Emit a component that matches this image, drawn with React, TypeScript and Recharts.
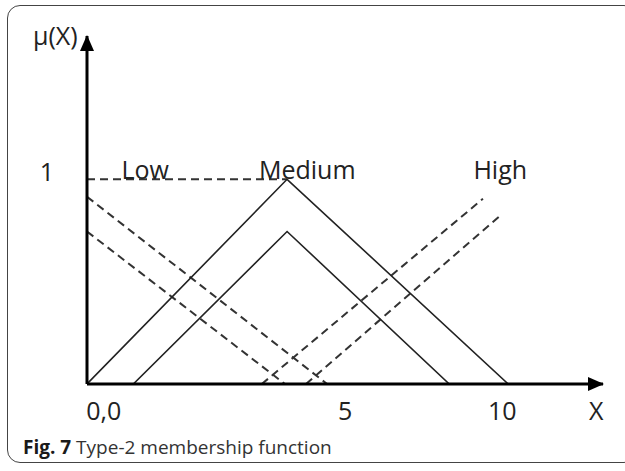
import { Line, LineChart, ReferenceDot, XAxis, YAxis } from 'recharts'

type Pt = { x: number; y: number }

// membership functions (x in universe units, y in membership degree)
const mediumOuter: Pt[] = [
  { x: 0, y: 0 },
  { x: 4.75, y: 1 },
  { x: 10, y: 0 },
]
const mediumInner: Pt[] = [
  { x: 1.1, y: 0 },
  { x: 4.75, y: 0.745 },
  { x: 8.6, y: 0 },
]
const lowUpper: Pt[] = [
  { x: 0, y: 0.915 },
  { x: 5.7, y: 0 },
]
const lowLower: Pt[] = [
  { x: 0, y: 0.745 },
  { x: 4.7, y: 0 },
]
const highUpper: Pt[] = [
  { x: 4.15, y: 0 },
  { x: 9.4, y: 0.905 },
]
const highLower: Pt[] = [
  { x: 5.2, y: 0 },
  { x: 9.85, y: 0.83 },
]
const levelOne: Pt[] = [
  { x: 0, y: 1 },
  { x: 4.75, y: 1 },
]

const xTickValues = [0.4, 6.13, 9.86, 12.09]
const xTickLabels = ['0,0', '5', '10', 'X']
const yTickValues = [1]
const yTickLabels = ['1']

const setNames = ['Low', 'Medium', 'High']
const setNameAt = [1.38, 5.23, 9.81]

const FONT = '"Open Sans", sans-serif'
const INK = '#222'

const solidLines = [mediumOuter, mediumInner]
const dashedLines = [levelOne, lowUpper, lowLower, highUpper, highLower]

function XTick(props: any) {
  const { x, y, payload } = props
  const i = xTickValues.indexOf(payload.value)
  return (
    <text x={x} y={y + 36} textAnchor='middle' fontFamily={FONT} fontSize={25} fill={INK}>
      {xTickLabels[i]}
    </text>
  )
}

function YTick(props: any) {
  const { x, y, payload } = props
  const i = yTickValues.indexOf(payload.value)
  return (
    <text x={x - 40} y={y + 2} textAnchor='middle' fontFamily={FONT} fontSize={25} fill={INK}>
      {yTickLabels[i]}
    </text>
  )
}

function nameLabel(name: string) {
  return (props: any) => {
    const vb = props.viewBox
    return (
      <text x={vb.x} y={vb.y} textAnchor='middle' fontFamily={FONT} fontSize={25} fill={INK}>
        {name}
      </text>
    )
  }
}

export default function App() {
  return (
    <div style={{ position: 'fixed', left: 0, top: 0, width: 625, height: 471, background: '#fff' }}>
      <div
        style={{
          position: 'absolute',
          left: 7,
          top: 5,
          width: 630,
          height: 458,
          border: '1.5px solid #444',
          borderRadius: 13,
          boxSizing: 'border-box',
        }}
      />
      <LineChart
        width={625}
        height={471}
        margin={{ top: 36, right: 22, bottom: 86, left: 86 }}
        style={{ position: 'absolute', left: 0, top: 0 }}
      >
        <defs>
          <marker
            id='arrow'
            viewBox='0 0 16 14'
            refX={15}
            refY={7}
            markerWidth={16}
            markerHeight={14}
            markerUnits='userSpaceOnUse'
            orient='auto-start-reverse'
          >
            <path d='M0,0 L16,7 L0,14 Z' fill='#000' />
          </marker>
        </defs>
        <XAxis
          type='number'
          dataKey='x'
          domain={[0, 12.25]}
          ticks={xTickValues}
          interval={0}
          height={1}
          tickSize={0}
          tickMargin={0}
          tickLine={false}
          axisLine={{ stroke: '#000', strokeWidth: 3, markerEnd: 'url(#arrow)' }}
          tick={<XTick />}
          allowDataOverflow
        />
        <YAxis
          type='number'
          dataKey='y'
          domain={[0, 1.7]}
          ticks={yTickValues}
          interval={0}
          width={1}
          tickSize={0}
          tickMargin={0}
          tickLine={false}
          axisLine={{ stroke: '#000', strokeWidth: 3, markerStart: 'url(#arrow)' }}
          tick={<YTick />}
          label={(props: any) => (
            <text
              x={props.viewBox.x - 53}
              y={props.viewBox.y + 9}
              fontFamily={FONT}
              fontSize={25}
              fill={INK}
            >
              μ(X)
            </text>
          )}
          allowDataOverflow
        />
        {dashedLines.map((d, i) => (
          <Line
            key={'d' + i}
            data={d}
            dataKey='y'
            type='linear'
            stroke='#333'
            strokeWidth={2}
            strokeDasharray='8 5'
            dot={false}
            activeDot={false}
            isAnimationActive={false}
          />
        ))}
        {solidLines.map((d, i) => (
          <Line
            key={'s' + i}
            data={d}
            dataKey='y'
            type='linear'
            stroke='#222'
            strokeWidth={1.6}
            dot={false}
            activeDot={false}
            isAnimationActive={false}
          />
        ))}
        {setNames.map((name, i) => (
          <ReferenceDot
            key={name}
            x={setNameAt[i]}
            y={1}
            r={0}
            fill='none'
            stroke='none'
            label={nameLabel(name)}
          />
        ))}
      </LineChart>
      <div
        style={{
          position: 'absolute',
          left: 23,
          top: 438,
          fontFamily: FONT,
          fontSize: 19,
          lineHeight: '19px',
          color: '#333',
          whiteSpace: 'nowrap',
        }}
      >
        <b style={{ color: '#1a1a1a' }}>Fig. 7</b> Type-2 membership function
      </div>
    </div>
  )
}
